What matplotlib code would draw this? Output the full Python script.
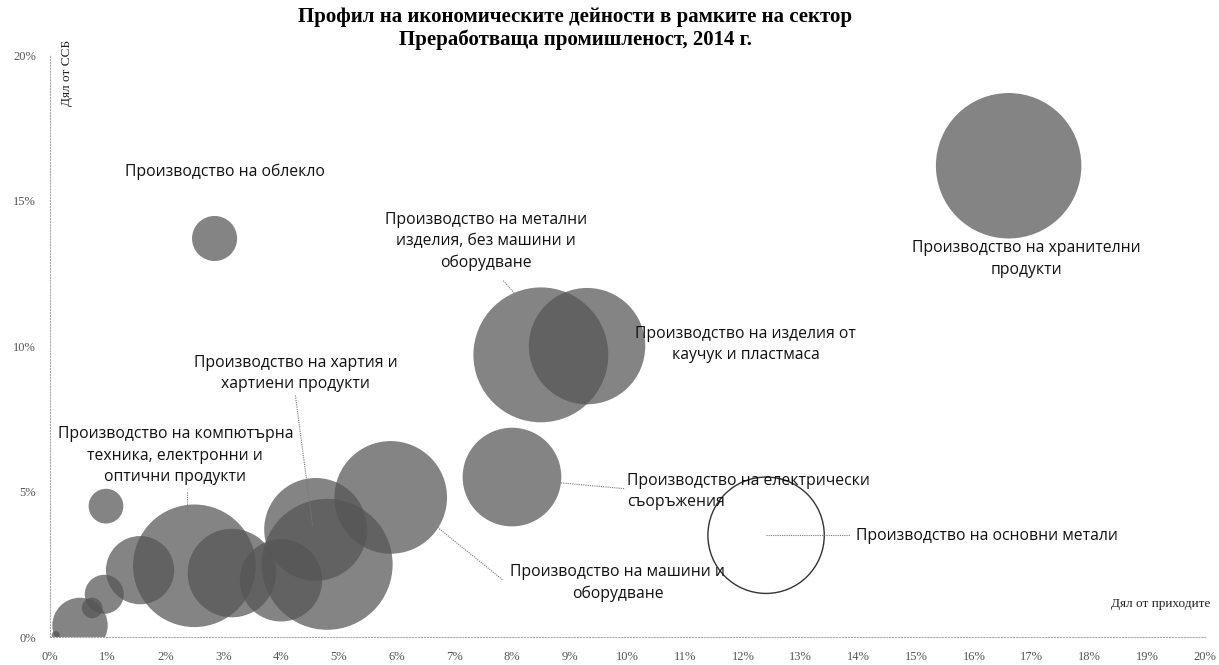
import numpy as np
import matplotlib.pyplot as plt
from matplotlib.ticker import FuncFormatter, MultipleLocator

# share of revenue (%), share of value added (%), relative bubble value
activities = [
    "Храни", "Облекло", "Метални изделия", "Каучук и пластмаси", "Електрически съоръжения",
    "Основни метали", "Машини и оборудване", "Хартия", "Напитки", "Мебели",
    "Текстил", "Компютърна техника", "Дървен материал", "Кожи", "Тютюн",
    "Печатна дейност", "Кокс и нефтопродукти", "Ремонт",
]
revenue = [16.6, 2.85, 8.5, 9.3, 8.0, 12.4, 5.9, 4.6, 4.8, 4.0, 3.15, 2.5, 1.56, 0.97, 0.94, 0.73, 0.52, 0.1]
gva = [16.2, 13.7, 9.7, 10.0, 5.5, 3.5, 4.8, 3.7, 2.5, 1.95, 2.2, 2.45, 2.3, 4.5, 1.47, 1.0, 0.4, 0.07]
bubble = [100, 9.6, 86, 64, 46, 64, 60, 50, 81, 32, 37, 71, 22, 5.7, 7.2, 2.0, 14.5, 0.3]

W, H, DPI = 1219, 665, 100
fig = plt.figure(figsize=(W / DPI, H / DPI), dpi=DPI)
ax = fig.add_axes([0.041, 0.042, 0.9475, 0.875])

# Excel-like bubble scale: biggest bubble diameter = 25% of plot height
plot_h_px = 0.875 * H
rmax_pt = 0.125 * plot_h_px * 72 / DPI
b = np.array(bubble)
sizes = (2 * rmax_pt * np.sqrt(b / b.max())) ** 2

filled = [i for i, n in enumerate(activities) if n != "Основни метали"]
ax.scatter(np.array(revenue)[filled], np.array(gva)[filled], s=sizes[filled],
           color="#555555", alpha=0.72, linewidths=0, zorder=2)
i_bm = activities.index("Основни метали")
ax.scatter([revenue[i_bm]], [gva[i_bm]], s=[sizes[i_bm]], facecolor="none",
           edgecolor="#333333", linewidths=1.0, zorder=3)

ax.set_xlim(0, 20)
ax.set_ylim(0, 20)
ax.xaxis.set_major_locator(MultipleLocator(1))
ax.yaxis.set_major_locator(MultipleLocator(5))
pct = FuncFormatter(lambda v, _: f"{v:.0f}%")
ax.xaxis.set_major_formatter(pct)
ax.yaxis.set_major_formatter(pct)
ax.tick_params(length=0, labelsize=9, labelcolor="#555555", pad=10)
for lab in ax.get_xticklabels() + ax.get_yticklabels():
    lab.set_family("Liberation Serif")
ax.spines[["top", "right"]].set_visible(False)
for s in ("left", "bottom"):
    ax.spines[s].set_linestyle(":")
    ax.spines[s].set_color("#aaaaaa")
    ax.spines[s].set_linewidth(0.8)

lab_font = dict(family="Open Sans", fontsize=11.3, color="#111111")
line_kw = dict(color="#777777", lw=0.8, ls=(0, (1, 1)), zorder=4)

def label(text, xy, ha="center", leader=None):
    ax.text(*xy, text, ha=ha, va="center", linespacing=1.45, zorder=5, **lab_font)
    if leader is not None:
        (x0, y0), (x1, y1) = leader
        ax.plot([x0, x1], [y0, y1], **line_kw)

label("Производство на облекло", (3.03, 16.0))
label("Производство на метални\nизделия, без машини и\nоборудване", (7.55, 13.6),
      leader=((7.85, 12.25), (8.05, 11.8)))
label("Производство на хранителни\nпродукти", (16.9, 13.0))
label("Производство на изделия от\nкаучук и пластмаса", (12.05, 10.05))
label("Производство на хартия и\nхартиени продукти", (4.25, 9.05),
      leader=((4.25, 8.3), (4.55, 3.8)))
label("Производство на компютърна\nтехника, електронни и\nоптични продукти", (2.17, 6.23),
      leader=((2.37, 5.0), (2.37, 4.3)))
label("Производство на електрически\nсъоръжения", (10.0, 5.0), ha="left",
      leader=((8.85, 5.3), (9.95, 5.1)))
label("Производство на основни метали", (13.95, 3.46), ha="left",
      leader=((revenue[i_bm], gva[i_bm]), (13.85, gva[i_bm])))
label("Производство на машини и\nоборудване", (9.83, 1.85),
      leader=((6.71, 3.77), (7.85, 1.95)))

ax.text(0.3, 19.4, "Дял от ССБ", rotation=90, ha="center", va="center",
        family="Liberation Serif", fontsize=9.5, color="#222222")
ax.text(20.1, 1.13, "Дял от приходите", ha="right", va="center",
        family="Liberation Serif", fontsize=9.5, color="#222222")

fig.suptitle("Профил на икономическите дейности в рамките на сектор\n"
             "Преработваща промишленост, 2014 г.",
             x=0.472, y=0.99, family="Liberation Serif", fontweight="bold",
             fontsize=15, linespacing=1.2)

fig.savefig("out.png", dpi=DPI)
